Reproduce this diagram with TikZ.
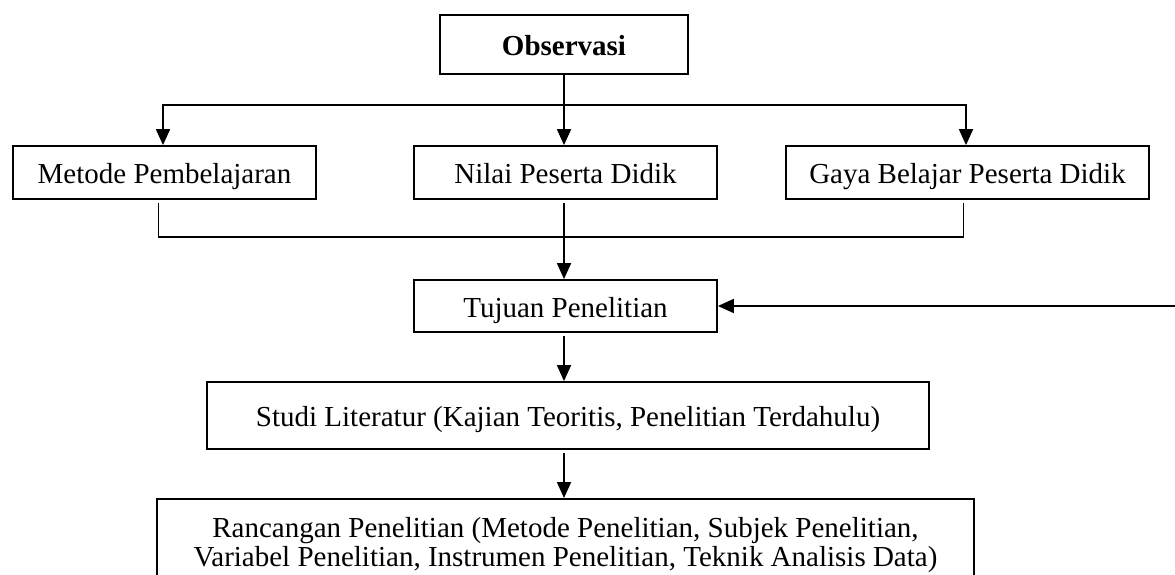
\documentclass[tikz,border=0pt]{standalone}
\usepackage{fontspec}
\setmainfont{Liberation Serif}
\usetikzlibrary{arrows.meta,positioning}
\begin{document}
\begin{tikzpicture}[x=1pt,y=-1pt,
  box/.style={draw,line width=1.8pt,rectangle,inner sep=0pt,align=center,
    font=\fontsize{29}{29}\selectfont},
  one/.style={text height=24pt,text depth=2pt},
  conn/.style={line width=1.8pt},
  arr/.style={conn,-{Triangle[length=16pt,width=14pt]}}]
\useasboundingbox (0,0) rectangle (1175,574);
\clip (0,0) rectangle (1175,574);
\node[box,one,minimum width=248pt,minimum height=59pt] (obs) at (564,44.5) {\bfseries Observasi};
\node[box,one,minimum width=303pt,minimum height=53pt] (met) at (164.5,172.5) {Metode Pembelajaran};
\node[box,one,minimum width=303pt,minimum height=53pt] (nil) at (565.5,172.5) {Nilai Peserta Didik};
\node[box,one,minimum width=363pt,minimum height=53pt] (gaya) at (967.5,172.5) {Gaya Belajar Peserta Didik};
\node[box,one,minimum width=303pt,minimum height=52pt] (tuj) at (565.5,306) {Tujuan Penelitian};
\node[box,one,minimum width=722pt,minimum height=67pt] (stu) at (568,415.5) {Studi Literatur (Kajian Teoritis, Penelitian Terdahulu)};
\node[box,minimum width=817pt,minimum height=110pt,anchor=north,inner ysep=18pt] (ran) at (565.5,498) {Rancangan Penelitian (Metode Penelitian, Subjek Penelitian,\\Variabel Penelitian, Instrumen Penelitian, Teknik Analisis Data)\\[60pt]};
\coordinate (col) at (564,0);
\coordinate (bar) at (564,105);
\coordinate (bot) at (564,237);
\coordinate (redge) at (1176,306);
\draw[arr] (col |- obs.south) -- (col |- nil.north);
\draw[arr] (bar) -| ([xshift=-1.5pt]met.north);
\draw[arr] (bar) -| ([xshift=-1.5pt]gaya.north);
\draw[conn] ([xshift=-6pt,yshift=-3pt]met.south) |- (bot) -| ([xshift=-4pt,yshift=-3pt]gaya.south);
\draw[arr] ([yshift=-3pt]col |- nil.south) -- (col |- tuj.north);
\draw[arr] (redge) -- (tuj.east);
\draw[arr] ([yshift=-3pt]col |- tuj.south) -- (col |- stu.north);
\draw[arr] ([yshift=-3pt]col |- stu.south) -- (col |- ran.north);
\end{tikzpicture}
\end{document}
